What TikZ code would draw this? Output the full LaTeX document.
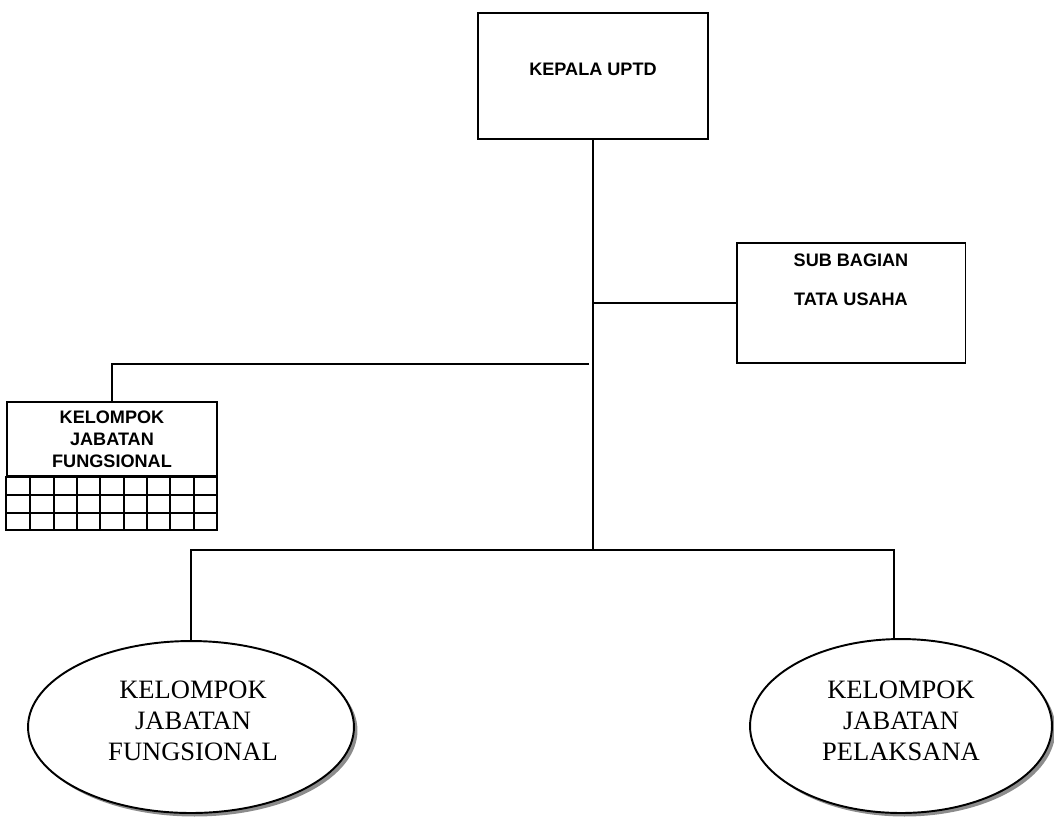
\documentclass[tikz,border=0pt]{standalone}
\usepackage{fontspec}
\setmainfont{Liberation Serif}
\setsansfont{Liberation Sans}
\usetikzlibrary{calc,shapes.geometric,shadows}
\tikzset{
	orgbox/.style={draw, line width=1.1pt, rectangle, inner sep=0pt},
	boxtext/.style={align=center, font=\sffamily\bfseries\fontsize{10.3}{12.5}\selectfont},
	unitoval/.style={draw, line width=1.1pt, ellipse, fill=white, inner sep=0pt,
		drop shadow={shadow xshift=0.07cm, shadow yshift=-0.07cm, opacity=1, fill=black!45}},
	ovaltext/.style={align=center, font=\fontsize{15.1}{17.6}\selectfont},
	link/.style={line width=1.1pt}
}

\begin{document}
\begin{tikzpicture}[x=0.02cm, y=-0.02cm]
			%%%%% START %%%%%
			\useasboundingbox (0, 0) rectangle (1054, 816);
			
			\node[orgbox, minimum width=4.6cm, minimum height=2.52cm] (kepala) at (593, 76) {};
			\node[boxtext] (kepalatext) at (593, 69) {KEPALA UPTD};
			
			\node[orgbox, minimum width=4.58cm, minimum height=2.4cm] (sub) at (851, 303) {};
			\node[boxtext] (subtext) at (851, 280) {SUB BAGIAN\\[9.6pt]TATA USAHA};
			
			\node[orgbox, boxtext, minimum width=4.2cm, minimum height=1.48cm] (kjf) at (112, 439) {KELOMPOK\\JABATAN\\FUNGSIONAL};
			% grid under the box
			\draw[line width=1.1pt] (kjf.south west) rectangle (217, 530);
			\foreach \y in {495, 513}
				\draw[line width=1.1pt] (7, \y) -- (217, \y);
			\foreach \i in {1,...,8}
				\draw[line width=1.1pt] ({7 + \i*23.33}, 476) -- ({7 + \i*23.33}, 530);
			
			\node[unitoval, minimum width=6.52cm, minimum height=3.44cm] (fung) at (191, 727) {};
			\node[ovaltext] (fungtext) at (193, 721) {KELOMPOK\\JABATAN\\FUNGSIONAL};
			\node[unitoval, minimum width=6.04cm, minimum height=3.48cm] (pel) at (901, 726) {};
			\node[ovaltext] (peltext) at (901, 721) {KELOMPOK\\JABATAN\\PELAKSANA};
			
			\coordinate (jsub) at (kepala.south |- sub.west);
			\coordinate (jleft) at ($(kepala.south |- 0, 364) + (-4, 0)$);
			\coordinate (jbot) at (kepala.south |- 0, 550);
			\coordinate (pelin) at ($(pel.north) + (-7, 0)$);
			
			\draw[link] (kepala.south) -- (jbot);
			\draw[link] (jsub) -- (sub.west);
			\draw[link] (jleft) -| (kjf.north);
			\draw[link] (fung.north) |- (jbot) -| (pelin);
			
			%%%%% END %%%%%
\end{tikzpicture}
\end{document}
